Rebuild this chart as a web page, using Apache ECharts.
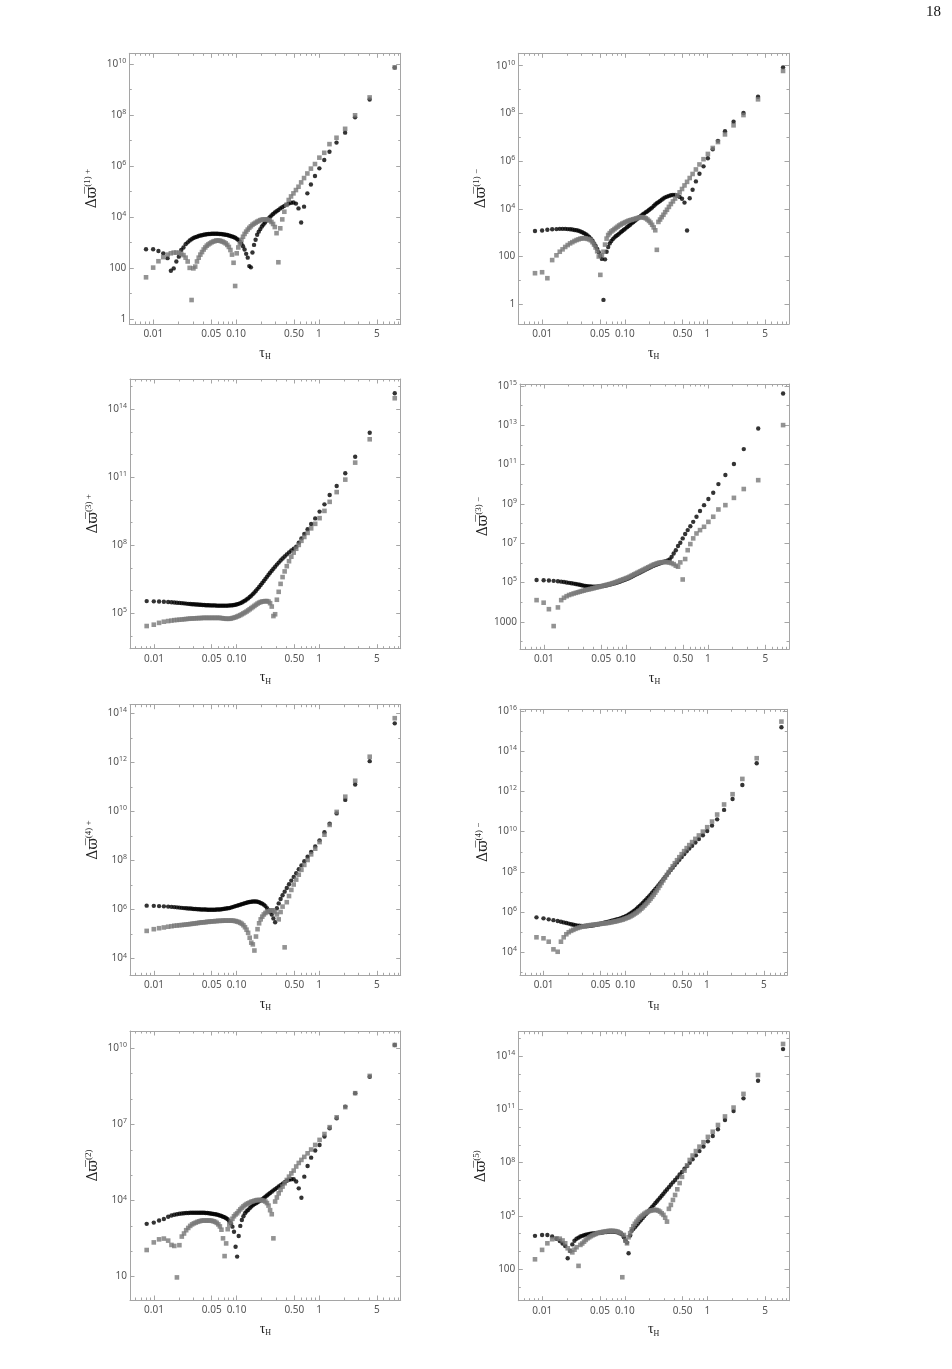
<!DOCTYPE html>
<html>
<head>
<meta charset="utf-8">
<title>Delta varpi vs tau_H</title>
<script src="https://cdn.jsdelivr.net/npm/echarts@6.0.0/dist/echarts.min.js"></script>
<style>
  html, body { margin: 0; padding: 0; background: #fff; }
  #main { width: 952px; height: 1369px; }
</style>
</head>
<body>
<div id="main"></div>
<script>
// all values are log10 of the plotted quantity
var logTau = [-2.088,-2.002,-1.938,-1.880,-1.828,-1.788,-1.754,-1.722,-1.692,-1.663,
  -1.636,-1.610,-1.585,-1.561,-1.538,-1.516,-1.494,-1.473,-1.452,-1.432,
  -1.412,-1.392,-1.373,-1.354,-1.335,-1.316,-1.297,-1.278,-1.259,-1.240,
  -1.221,-1.202,-1.183,-1.164,-1.145,-1.126,-1.107,-1.088,-1.069,-1.050,
  -1.031,-1.012,-0.993,-0.974,-0.955,-0.936,-0.917,-0.898,-0.879,-0.860,
  -0.841,-0.822,-0.803,-0.784,-0.765,-0.746,-0.727,-0.708,-0.689,-0.670,
  -0.651,-0.632,-0.613,-0.594,-0.574,-0.554,-0.533,-0.512,-0.490,-0.467,
  -0.443,-0.418,-0.392,-0.365,-0.337,-0.308,-0.278,-0.247,-0.215,-0.180,
  -0.140,-0.097,-0.048,0.005,0.064,0.127,0.212,0.316,0.436,0.612,0.915];

// Δϖ(1)+
var p1Black = [2.73,2.73,2.66,2.57,2.38,1.89,1.98,2.25,2.44,2.70,
  2.80,2.93,3.00,3.07,3.12,3.17,3.20,3.22,3.25,3.27,
  3.28,3.30,3.31,3.32,3.33,3.33,3.34,3.34,3.34,3.34,
  3.34,3.33,3.33,3.32,3.31,3.30,3.29,3.27,3.25,3.23,
  3.21,3.18,3.14,3.09,3.03,2.95,2.85,2.72,2.55,2.40,
  2.07,2.02,2.60,2.90,3.10,3.30,3.42,3.52,3.62,3.70,
  3.78,3.86,3.93,3.99,4.05,4.11,4.17,4.22,4.27,4.33,
  4.38,4.43,4.48,4.52,4.55,4.56,4.52,4.33,3.78,4.40,
  4.92,5.27,5.60,5.90,6.23,6.55,6.91,7.30,7.90,8.60,9.85];
var p1Gray = [1.63,2.01,2.26,2.42,2.52,2.57,2.60,2.60,2.59,2.55,
  2.50,2.40,2.25,2.00,0.74,1.98,2.05,2.25,2.40,2.52,
  2.62,2.72,2.80,2.87,2.92,2.96,3.00,3.03,3.05,3.07,
  3.07,3.07,3.05,3.03,3.00,2.96,2.90,2.82,2.70,2.52,
  2.20,1.29,2.57,2.80,2.96,3.10,3.22,3.33,3.42,3.50,
  3.57,3.63,3.69,3.73,3.77,3.81,3.84,3.87,3.89,3.90,
  3.90,3.90,3.88,3.86,3.80,3.72,3.60,3.36,2.22,3.55,
  3.90,4.20,4.47,4.66,4.80,4.92,5.05,5.18,5.35,5.52,
  5.70,5.89,6.07,6.32,6.51,6.85,7.10,7.45,7.98,8.68,9.86];

// Δϖ(1)−
var p2Black = [3.07,3.09,3.12,3.14,3.15,3.16,3.16,3.16,3.15,3.14,
  3.13,3.11,3.10,3.08,3.05,3.02,2.98,2.93,2.88,2.82,
  2.75,2.66,2.55,2.44,2.32,2.18,2.02,1.90,0.18,1.88,
  2.20,2.40,2.55,2.65,2.73,2.80,2.86,2.90,2.96,3.02,
  3.07,3.12,3.17,3.23,3.28,3.33,3.39,3.44,3.50,3.55,
  3.60,3.66,3.71,3.76,3.81,3.86,3.90,3.95,4.00,4.05,
  4.12,4.18,4.23,4.28,4.33,4.38,4.43,4.48,4.51,4.54,
  4.57,4.58,4.58,4.55,4.50,4.42,4.26,3.09,4.44,4.80,
  5.15,5.47,5.78,6.12,6.50,6.85,7.25,7.65,8.02,8.70,9.93];
var p2Gray = [1.30,1.34,1.09,1.85,2.05,2.20,2.30,2.40,2.48,2.55,
  2.60,2.65,2.69,2.72,2.75,2.76,2.77,2.76,2.74,2.72,
  2.68,2.60,2.50,2.38,2.22,2.00,1.23,2.05,2.20,2.50,
  2.75,2.90,2.98,3.05,3.10,3.15,3.20,3.25,3.30,3.34,
  3.38,3.41,3.44,3.47,3.50,3.52,3.54,3.56,3.58,3.60,
  3.62,3.64,3.65,3.65,3.63,3.60,3.55,3.49,3.42,3.33,
  3.22,3.10,2.28,3.45,3.55,3.65,3.75,3.86,3.96,4.08,
  4.20,4.31,4.43,4.56,4.69,4.83,4.98,5.13,5.29,5.46,
  5.65,5.86,6.08,6.30,6.55,6.80,7.12,7.50,7.93,8.59,9.78];

// Δϖ(3)+
var p3Black = [5.54,5.53,5.52,5.51,5.50,5.49,5.48,5.47,5.46,5.45,
  5.44,5.43,5.42,5.41,5.40,5.40,5.39,5.39,5.38,5.38,
  5.37,5.37,5.36,5.36,5.36,5.35,5.35,5.35,5.35,5.34,
  5.34,5.34,5.34,5.34,5.34,5.34,5.34,5.35,5.35,5.36,
  5.37,5.38,5.40,5.42,5.45,5.48,5.52,5.56,5.61,5.66,
  5.72,5.78,5.85,5.92,6.00,6.08,6.16,6.25,6.34,6.43,
  6.52,6.61,6.70,6.79,6.88,6.97,7.06,7.15,7.24,7.33,
  7.42,7.51,7.60,7.69,7.77,7.85,7.94,8.12,8.31,8.50,
  8.71,8.94,9.19,9.49,9.81,10.22,10.62,11.18,11.91,12.97,14.71];
var p3Gray = [4.44,4.50,4.58,4.63,4.66,4.68,4.70,4.71,4.72,4.73,
  4.74,4.75,4.76,4.77,4.77,4.78,4.78,4.79,4.79,4.79,
  4.80,4.80,4.80,4.80,4.80,4.80,4.80,4.80,4.80,4.80,
  4.80,4.80,4.79,4.78,4.77,4.76,4.76,4.76,4.77,4.79,
  4.81,4.83,4.86,4.89,4.92,4.96,5.00,5.04,5.08,5.13,
  5.18,5.23,5.28,5.33,5.38,5.43,5.47,5.50,5.52,5.53,
  5.54,5.54,5.52,5.45,5.30,4.88,4.96,5.60,5.95,6.30,
  6.60,6.85,7.08,7.30,7.50,7.68,7.85,8.02,8.20,8.37,
  8.55,8.75,8.95,9.20,9.52,9.92,10.35,10.90,11.65,12.68,14.49];

// Δϖ(3)−
var p4Black = [5.12,5.11,5.10,5.08,5.06,5.04,5.02,5.00,4.98,4.96,
  4.94,4.92,4.90,4.88,4.86,4.84,4.82,4.81,4.80,4.79,
  4.78,4.78,4.78,4.78,4.79,4.80,4.81,4.82,4.83,4.85,
  4.87,4.89,4.91,4.93,4.95,4.97,5.00,5.02,5.05,5.08,
  5.11,5.14,5.17,5.20,5.24,5.28,5.32,5.36,5.40,5.44,
  5.48,5.52,5.56,5.60,5.64,5.68,5.72,5.76,5.80,5.84,
  5.87,5.90,5.93,5.96,5.99,6.02,6.05,6.08,6.12,6.17,
  6.30,6.47,6.64,6.85,7.02,7.24,7.46,7.66,7.86,8.08,
  8.34,8.63,8.93,9.24,9.56,10.00,10.46,11.02,11.78,12.83,14.61];
var p4Gray = [4.10,3.97,3.64,2.78,3.73,4.10,4.22,4.30,4.36,4.40,
  4.44,4.47,4.50,4.53,4.56,4.58,4.61,4.63,4.65,4.67,
  4.69,4.71,4.73,4.75,4.77,4.79,4.81,4.83,4.85,4.87,
  4.89,4.91,4.93,4.96,4.98,5.01,5.04,5.07,5.10,5.13,
  5.16,5.19,5.22,5.25,5.29,5.33,5.37,5.41,5.45,5.49,
  5.53,5.57,5.61,5.65,5.69,5.73,5.77,5.81,5.85,5.89,
  5.92,5.95,5.98,6.00,6.02,6.03,6.04,6.04,6.03,6.01,
  5.98,5.93,5.85,5.80,6.02,5.15,6.19,6.64,6.95,7.24,
  7.49,7.66,7.83,8.08,8.34,8.71,8.93,9.30,9.75,10.20,13.00];

// Δϖ(4)+
var p5Black = [6.16,6.15,6.14,6.13,6.12,6.11,6.10,6.09,6.08,6.07,
  6.06,6.05,6.04,6.04,6.03,6.02,6.02,6.01,6.01,6.00,
  6.00,6.00,6.00,5.99,5.99,5.99,5.99,5.99,5.99,6.00,
  6.00,6.00,6.01,6.02,6.03,6.04,6.05,6.06,6.08,6.10,
  6.12,6.14,6.16,6.18,6.20,6.22,6.24,6.26,6.28,6.30,
  6.31,6.32,6.33,6.33,6.33,6.32,6.30,6.27,6.24,6.20,
  6.14,6.06,5.98,5.90,5.80,5.64,5.48,6.05,6.25,6.43,
  6.58,6.73,6.88,7.03,7.18,7.33,7.48,7.64,7.80,7.97,
  8.15,8.35,8.57,8.82,9.15,9.50,9.92,10.47,11.10,12.05,13.59];
var p5Gray = [5.13,5.20,5.24,5.27,5.30,5.32,5.34,5.35,5.36,5.37,
  5.38,5.39,5.40,5.41,5.42,5.43,5.44,5.45,5.46,5.47,
  5.48,5.48,5.49,5.50,5.50,5.51,5.52,5.52,5.53,5.53,
  5.54,5.54,5.54,5.55,5.55,5.55,5.55,5.55,5.55,5.55,
  5.54,5.53,5.51,5.49,5.46,5.42,5.36,5.28,5.18,5.05,
  4.85,4.65,4.58,4.33,4.90,5.20,5.44,5.60,5.71,5.80,
  5.86,5.90,5.93,5.96,5.97,5.96,5.90,5.80,5.60,5.90,
  6.12,4.46,6.30,6.55,6.80,7.02,7.22,7.42,7.62,7.82,
  8.02,8.25,8.48,8.75,9.05,9.45,9.98,10.60,11.25,12.23,13.80];

// Δϖ(4)−
var p6Black = [5.74,5.69,5.64,5.60,5.56,5.52,5.49,5.46,5.43,5.40,
  5.37,5.35,5.33,5.32,5.31,5.30,5.30,5.30,5.31,5.32,
  5.33,5.34,5.36,5.37,5.39,5.41,5.43,5.45,5.47,5.49,
  5.51,5.53,5.55,5.57,5.59,5.61,5.63,5.65,5.67,5.70,
  5.73,5.76,5.80,5.84,5.88,5.93,5.98,6.04,6.10,6.17,
  6.24,6.31,6.38,6.46,6.54,6.62,6.70,6.78,6.87,6.96,
  7.05,7.14,7.23,7.32,7.42,7.52,7.63,7.74,7.85,7.97,
  8.09,8.21,8.34,8.47,8.60,8.74,8.88,9.02,9.16,9.30,
  9.46,9.63,9.82,10.03,10.30,10.61,11.08,11.62,12.32,13.40,15.19];
var p6Gray = [4.75,4.70,4.53,4.15,4.03,4.53,4.75,4.90,5.00,5.07,
  5.12,5.17,5.21,5.24,5.27,5.29,5.31,5.33,5.34,5.35,
  5.36,5.37,5.38,5.39,5.40,5.41,5.42,5.43,5.44,5.45,
  5.46,5.47,5.49,5.50,5.52,5.53,5.55,5.57,5.59,5.61,
  5.63,5.66,5.69,5.72,5.75,5.79,5.83,5.88,5.93,5.98,
  6.04,6.10,6.17,6.24,6.32,6.40,6.48,6.57,6.66,6.76,
  6.86,6.97,7.08,7.20,7.32,7.45,7.58,7.71,7.85,7.99,
  8.13,8.28,8.43,8.58,8.73,8.88,9.03,9.18,9.33,9.48,
  9.64,9.81,10.00,10.22,10.50,10.85,11.35,11.86,12.62,13.65,15.47];

// Δϖ(2)
var p7Black = [3.08,3.13,3.21,3.27,3.36,3.41,3.44,3.46,3.48,3.49,
  3.50,3.51,3.51,3.52,3.52,3.52,3.52,3.52,3.52,3.52,
  3.52,3.52,3.51,3.51,3.50,3.49,3.48,3.47,3.46,3.45,
  3.43,3.41,3.39,3.36,3.34,3.30,3.26,3.18,3.10,2.97,
  2.77,2.18,1.79,2.60,3.00,3.23,3.38,3.50,3.58,3.63,
  3.70,3.76,3.81,3.86,3.89,3.93,3.97,4.01,4.05,4.10,
  4.15,4.20,4.25,4.30,4.35,4.40,4.45,4.50,4.55,4.60,
  4.66,4.72,4.78,4.82,4.84,4.84,4.75,4.48,4.11,4.94,
  5.36,5.69,5.97,6.19,6.52,6.85,7.24,7.70,8.23,8.88,10.13];
var p7Gray = [2.05,2.35,2.47,2.50,2.42,2.25,2.21,0.97,2.24,2.58,
  2.70,2.83,2.92,3.00,3.06,3.10,3.13,3.16,3.18,3.20,
  3.21,3.21,3.21,3.21,3.21,3.21,3.20,3.18,3.16,3.12,
  3.06,2.98,2.85,2.51,1.81,2.31,2.87,3.05,3.17,3.28,
  3.38,3.45,3.50,3.58,3.65,3.71,3.77,3.82,3.86,3.89,
  3.92,3.95,3.97,3.99,4.01,4.02,4.02,4.02,4.01,3.99,
  3.96,3.90,3.80,3.62,3.46,2.51,3.96,4.12,4.28,4.42,
  4.55,4.68,4.81,4.94,5.07,5.18,5.34,5.48,5.60,5.72,
  5.86,6.01,6.19,6.39,6.62,6.89,7.28,7.68,8.23,8.91,10.13];

// Δϖ(5)
var p8Black = [3.88,3.93,3.93,3.85,3.72,3.59,3.45,3.31,2.62,3.03,
  3.40,3.60,3.72,3.78,3.84,3.88,3.91,3.94,3.96,3.98,
  4.00,4.01,4.02,4.03,4.04,4.05,4.06,4.07,4.08,4.09,
  4.10,4.11,4.12,4.12,4.12,4.11,4.10,4.08,4.05,4.01,
  3.95,3.80,3.61,3.50,2.90,3.90,4.16,4.27,4.37,4.47,
  4.58,4.69,4.78,4.89,5.00,5.10,5.19,5.30,5.41,5.50,
  5.61,5.72,5.82,5.92,6.03,6.14,6.25,6.38,6.49,6.62,
  6.76,6.89,7.02,7.17,7.33,7.48,7.66,7.81,7.99,8.19,
  8.41,8.65,8.91,9.20,9.50,9.88,10.40,10.90,11.62,12.61,14.39];
var p8Gray = [2.56,3.09,3.46,3.69,3.74,3.72,3.62,3.46,3.18,3.05,
  2.95,3.10,3.24,2.19,3.37,3.45,3.55,3.65,3.74,3.80,
  3.86,3.91,3.95,3.99,4.03,4.05,4.07,4.09,4.11,4.12,
  4.14,4.15,4.16,4.16,4.16,4.15,4.14,4.12,4.08,4.02,
  1.55,3.93,3.61,3.46,3.80,4.03,4.25,4.42,4.56,4.68,
  4.79,4.89,4.97,5.05,5.12,5.18,5.23,5.27,5.30,5.32,
  5.34,5.34,5.33,5.30,5.24,5.15,5.06,4.90,4.68,5.40,
  5.62,5.90,6.18,6.50,6.85,7.20,7.55,7.85,8.15,8.40,
  8.65,8.90,9.15,9.45,9.74,10.12,10.60,11.10,11.87,12.93,14.68];

// tick labels
var xMajor = [0.01, 0.05, 0.1, 0.5, 1, 5];
var xMajorText = ['0.01', '0.05', '0.10', '0.50', '1', '5'];
var xMinor = [0.006,0.007,0.008,0.009,0.02,0.03,0.04,0.06,0.07,0.08,0.09,
  0.2,0.3,0.4,0.6,0.7,0.8,0.9,2,3,4,6,7,8,9];
var p1YTicks = [0, 2, 4, 6, 8, 10];
var p2YTicks = [0, 2, 4, 6, 8, 10];
var p3YTicks = [5, 8, 11, 14];
var p4YTicks = [3, 5, 7, 9, 11, 13, 15];
var p5YTicks = [4, 6, 8, 10, 12, 14];
var p6YTicks = [4, 6, 8, 10, 12, 14, 16];
var p7YTicks = [1, 4, 7, 10];
var p8YTicks = [2, 5, 8, 11, 14];

var FRAME = '#a5a5a5', LABEL = '#555555';
var SANS = '"Noto Sans", "DejaVu Sans", sans-serif';
var SERIF = '"Liberation Serif", "DejaVu Serif", serif';
var X_MIN = -2.29, X_MAX = 0.987;

// plot boxes [left, top, width, height] and y range in decades
var panels = [
  {box: [129.3, 53.3, 271.4, 270.7], y: [-0.2, 10.41], ticks: p1YTicks, k: '1', sign: '+', black: p1Black, gray: p1Gray},
  {box: [518.3, 53.3, 270.7, 270.7], y: [-0.83, 10.52], ticks: p2YTicks, k: '1', sign: '\u2212', black: p2Black, gray: p2Gray},
  {box: [130, 379, 270.7, 269.7], y: [3.44, 15.34], ticks: p3YTicks, k: '3', sign: '+', black: p3Black, gray: p3Gray},
  {box: [520, 384, 269, 265.3], y: [1.6, 15.09], ticks: p4YTicks, k: '3', sign: '\u2212', black: p4Black, gray: p4Gray},
  {box: [130, 704.7, 270.7, 270.6], y: [3.32, 14.35], ticks: p5YTicks, k: '4', sign: '+', black: p5Black, gray: p5Gray},
  {box: [520, 709.3, 267.3, 266], y: [2.86, 16.08], ticks: p6YTicks, k: '4', sign: '\u2212', black: p6Black, gray: p6Gray},
  {box: [130, 1031, 270.7, 269], y: [0.08, 10.68], ticks: p7YTicks, k: '2', sign: '', black: p7Black, gray: p7Gray},
  {box: [518.3, 1031.7, 270.7, 269], y: [0.23, 15.37], ticks: p8YTicks, k: '5', sign: '', black: p8Black, gray: p8Gray}
];

var xMajorLog = xMajor.map(function (v) { return Math.log10(v); });
var xMinorLog = xMinor.map(function (v) { return Math.log10(v); });

function xLabel(v) {
  for (var i = 0; i < xMajorLog.length; i++) {
    if (Math.abs(xMajorLog[i] - v) < 1e-6) return xMajorText[i];
  }
  return '';
}
function yLabel(v) {
  var n = Math.round(v);
  if (n === 0) return '1';
  if (n === 1) return '10';
  if (n === 2) return '100';
  if (n === 3) return '1000';
  return '{b|10}{e|' + n + '}';
}

var yRich = {
  b: {fontSize: 10, color: LABEL, fontFamily: SANS, lineHeight: 13},
  e: {fontSize: 7, color: LABEL, fontFamily: SANS, lineHeight: 8, verticalAlign: 'top'}
};

var grids = [], xAxes = [], yAxes = [], series = [];

panels.forEach(function (p, i) {
  grids.push({left: p.box[0], top: p.box[1], width: p.box[2], height: p.box[3], outerBoundsMode: 'none'});

  var yMinor = [];
  for (var n = Math.ceil(p.y[0]); n <= Math.floor(p.y[1]); n++) {
    if (p.ticks.indexOf(n) < 0) yMinor.push(n);
  }

  var lineOn = {show: true, onZero: false, lineStyle: {color: FRAME, width: 1}};
  var lineOff = {show: false, onZero: false};
  function ticks(vals, len) {
    return {show: true, inside: true, length: len, customValues: vals, lineStyle: {color: FRAME, width: 1}};
  }
  var noLabel = {show: false};

  var xb = {type: 'value', gridIndex: i, min: X_MIN, max: X_MAX, splitLine: {show: false}};
  xAxes.push(Object.assign({}, xb, {
    position: 'bottom', axisLine: lineOn, axisTick: ticks(xMajorLog, 4.5),
    axisLabel: {customValues: xMajorLog, formatter: xLabel, color: LABEL, fontSize: 10,
      fontFamily: SANS, margin: 5, hideOverlap: false},
    name: '{t|\u03C4}{h|H}', nameLocation: 'middle', nameGap: 21,
    nameTextStyle: {rich: {
      t: {fontSize: 14, fontFamily: SERIF, color: '#222', lineHeight: 16},
      h: {fontSize: 8, fontFamily: SERIF, color: '#222', lineHeight: 9, verticalAlign: 'bottom'}
    }}
  }));
  xAxes.push(Object.assign({}, xb, {position: 'bottom', axisLine: lineOff, axisTick: ticks(xMinorLog, 2.5), axisLabel: noLabel}));
  xAxes.push(Object.assign({}, xb, {position: 'top', axisLine: lineOn, axisTick: ticks(xMajorLog, 4.5), axisLabel: noLabel}));
  xAxes.push(Object.assign({}, xb, {position: 'top', axisLine: lineOff, axisTick: ticks(xMinorLog, 2.5), axisLabel: noLabel}));

  var yb = {type: 'value', gridIndex: i, min: p.y[0], max: p.y[1], splitLine: {show: false}};
  yAxes.push(Object.assign({}, yb, {
    position: 'left', axisLine: lineOn, axisTick: ticks(p.ticks, 4.5),
    axisLabel: {customValues: p.ticks, formatter: yLabel, color: LABEL, fontSize: 10,
      fontFamily: SANS, margin: 3, hideOverlap: false, rich: yRich},
    name: '{d|\u0394\u03D6\u0305}{s|(' + p.k + ')' + (p.sign ? ' ' + p.sign : '') + '}',
    nameLocation: 'middle', nameRotate: 90, nameGap: 28,
    nameTextStyle: {rich: {
      d: {fontSize: 14, fontFamily: '"DejaVu Serif", serif', color: '#222', lineHeight: 18},
      s: {fontSize: 9, fontFamily: SERIF, color: '#222', lineHeight: 10, verticalAlign: 'top'}
    }}
  }));
  yAxes.push(Object.assign({}, yb, {position: 'left', axisLine: lineOff, axisTick: ticks(yMinor, 2.5), axisLabel: noLabel}));
  yAxes.push(Object.assign({}, yb, {position: 'right', axisLine: lineOn, axisTick: ticks(p.ticks, 4.5), axisLabel: noLabel}));
  yAxes.push(Object.assign({}, yb, {position: 'right', axisLine: lineOff, axisTick: ticks(yMinor, 2.5), axisLabel: noLabel}));

  series.push({
    type: 'scatter', xAxisIndex: 4 * i, yAxisIndex: 4 * i, silent: true,
    symbol: 'circle', symbolSize: 4.4, itemStyle: {color: '#000000'},
    data: p.black.map(function (v, j) { return [logTau[j], v]; }), z: 2
  });
  series.push({
    type: 'scatter', xAxisIndex: 4 * i, yAxisIndex: 4 * i, silent: true,
    symbol: 'rect', symbolSize: 4.6, itemStyle: {color: '#787878'},
    data: p.gray.map(function (v, j) { return [logTau[j], v]; }), z: 3
  });
});

var chart = echarts.init(document.getElementById('main'), null, {renderer: 'canvas'});
chart.setOption({
  animation: false,
  backgroundColor: '#ffffff',
  grid: grids,
  xAxis: xAxes,
  yAxis: yAxes,
  series: series,
  graphic: [{
    type: 'text', left: 926, top: 5,
    style: {text: '18', font: '15px "Liberation Serif", serif', fill: '#111'}
  }]
});
</script>
</body>
</html>
